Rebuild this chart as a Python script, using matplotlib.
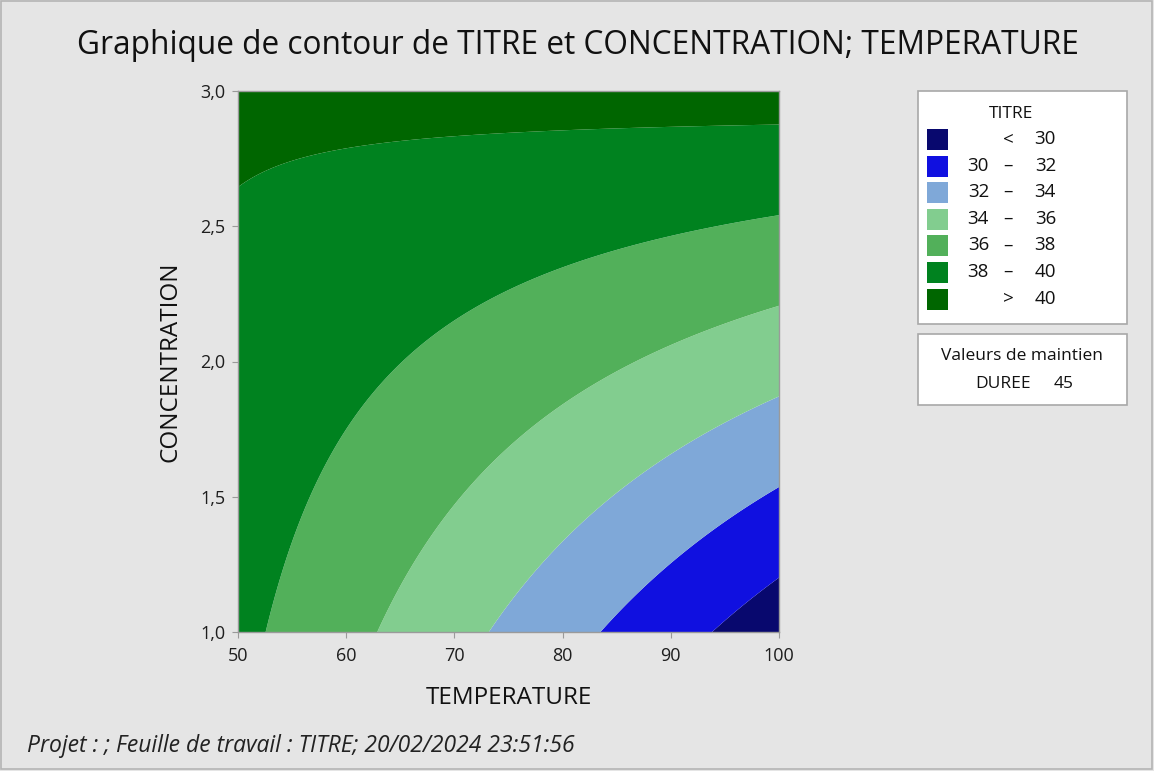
import numpy as np
import matplotlib
matplotlib.use("Agg")
import matplotlib.pyplot as plt
from matplotlib.patches import Rectangle

plt.rcParams['font.family'] = ['Open Sans', 'DejaVu Sans']

# Response surface for TITRE (DUREE held at 45)
# TITRE = b0 + bT*T + bC*C + bTC*T*C
coef_names = ["const", "TEMPERATURE", "CONCENTRATION", "TEMPERATURE*CONCENTRATION"]
coef_values = [52.33, -0.295, -4.14, 0.1011]

temp_range = [50, 100]
conc_range = [1.0, 3.0]
temp_ticks = [50, 60, 70, 80, 90, 100]
conc_ticks = [1.0, 1.5, 2.0, 2.5, 3.0]

levels = [30, 32, 34, 36, 38, 40]
level_colors = ["#08086e", "#1010e0", "#7fa8d8", "#82cd8f", "#52b05a", "#00821f", "#006600"]
hold_name = "DUREE"
hold_value = 45

bg = "#e5e5e5"
txt = "#111111"
fig = plt.figure(figsize=(11.54, 7.71), dpi=100, facecolor=bg)

# contour panel
ax = fig.add_axes([238 / 1154, 1 - 632 / 771, 541 / 1154, 541 / 771])
T, C = np.meshgrid(np.linspace(*temp_range, 400), np.linspace(*conc_range, 400))
b0, bT, bC, bTC = coef_values
Z = b0 + bT * T + bC * C + bTC * T * C
bounds = [min(Z.min(), levels[0]) - 1] + levels + [max(Z.max(), levels[-1]) + 1]
ax.contourf(T, C, Z, levels=bounds, colors=level_colors, antialiased=True)

ax.set_xlim(temp_range)
ax.set_ylim(conc_range)
ax.set_xticks(temp_ticks)
ax.set_yticks(conc_ticks)
ax.set_yticklabels([f"{v:.1f}".replace(".", ",") for v in conc_ticks])
ax.tick_params(direction="out", length=4, color="#9a9a9a", labelsize=13, labelcolor="#1e1e1e")
ax.tick_params(axis="x", pad=7)
ax.tick_params(axis="y", pad=5)
for s in ax.spines.values():
    s.set_color("#9a9a9a")
    s.set_linewidth(1)
ax.set_xlabel("TEMPERATURE", fontsize=17.5, color=txt, va="center")
ax.set_ylabel("CONCENTRATION", fontsize=17.5, color=txt, va="center")
ax.xaxis.set_label_coords(0.5, -66 / 541)
ax.yaxis.set_label_coords(-68 / 541, 0.5)

fig.text(0.501, 1 - 46 / 771, "Graphique de contour de TITRE et CONCENTRATION; TEMPERATURE",
         ha="center", va="center", fontsize=22.8, color=txt)
fig.text(27 / 1154, 1 - 746 / 771, "Projet : ; Feuille de travail : TITRE; 20/02/2024 23:51:56",
         ha="left", va="center", fontsize=16.5, style="italic", color="#222222")

# legend boxes, drawn in pixel coordinates
lx = fig.add_axes([0, 0, 1, 1], facecolor="none")
lx.set_xlim(0, 1154)
lx.set_ylim(771, 0)
lx.axis("off")
lx.add_patch(Rectangle((1, 1), 1151, 768, fill=False, edgecolor="#b4b4b4", lw=1.2))
lx.add_patch(Rectangle((918, 91), 209, 233, facecolor="white", edgecolor="#a8a8a8", lw=1.2))
lx.add_patch(Rectangle((918, 334), 209, 71, facecolor="white", edgecolor="#a8a8a8", lw=1.2))
lx.text(1011, 114, "TITRE", ha="center", va="center", fontsize=12.5, color=txt)

labels = [("", "<", levels[0])]
labels += [(levels[i], "\u2013", levels[i + 1]) for i in range(len(levels) - 1)]
labels += [("", ">", levels[-1])]
for i, (col, (lo, mid, hi)) in enumerate(zip(level_colors, labels)):
    y = 139 + i * 26.6
    lx.add_patch(Rectangle((927, y - 10), 21, 21, facecolor=col, edgecolor="none"))
    if lo != "":
        lx.text(989, y, str(lo), ha="right", va="center", fontsize=13.5, color=txt)
    lx.text(1008, y, mid, ha="center", va="center", fontsize=13.5, color=txt)
    lx.text(1056, y, str(hi), ha="right", va="center", fontsize=13.5, color=txt)

lx.text(1022, 356, "Valeurs de maintien", ha="center", va="center", fontsize=12.5, color=txt)
lx.text(1031, 384, hold_name, ha="right", va="center", fontsize=12.5, color=txt)
lx.text(1074, 384, str(hold_value), ha="right", va="center", fontsize=12.5, color=txt)

fig.savefig("out.png", dpi=100, facecolor=bg)
